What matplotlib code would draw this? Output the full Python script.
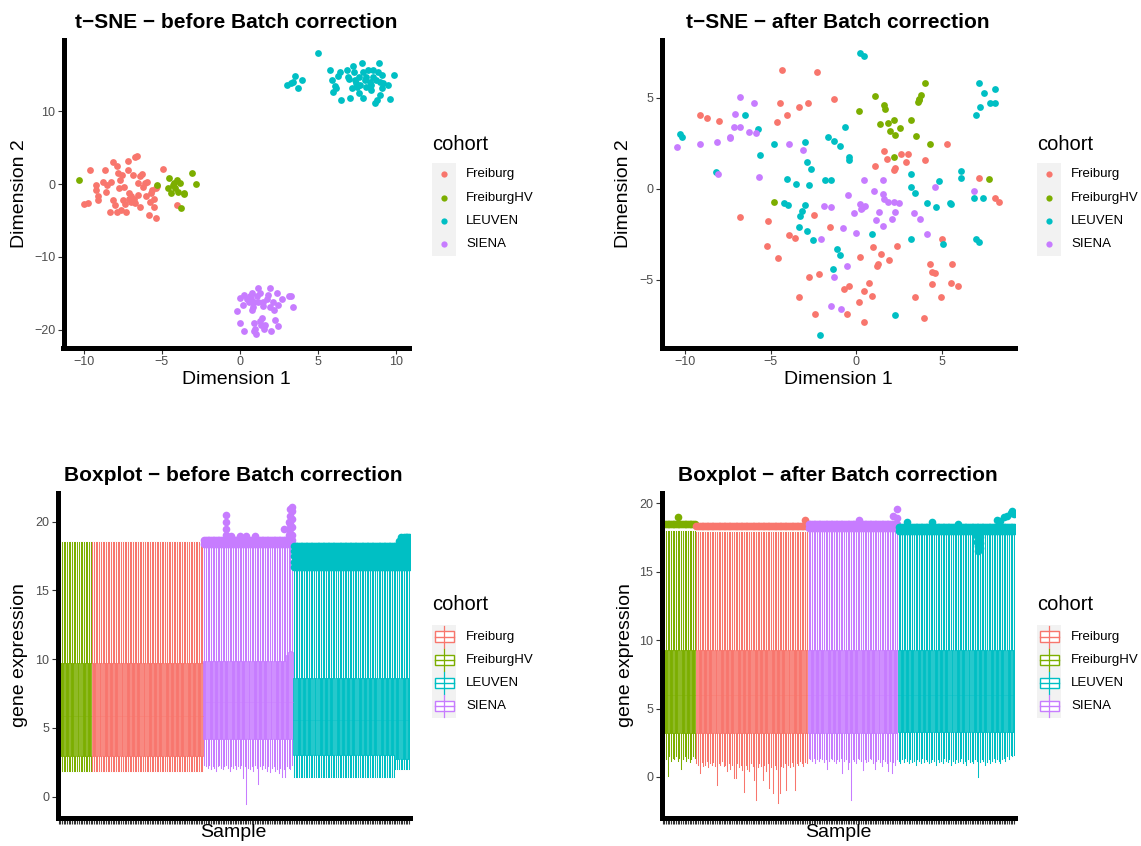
import matplotlib
matplotlib.use("Agg")
import matplotlib.pyplot as plt
from matplotlib.patches import Rectangle
from matplotlib.lines import Line2D
from matplotlib.transforms import Affine2D

plt.rcParams['font.family'] = ['Liberation Sans', 'DejaVu Sans']

W, H = 1141, 846

cohorts = ["Freiburg", "FreiburgHV", "LEUVEN", "SIENA"]
cohort_colors = {"Freiburg": "#F8766D", "FreiburgHV": "#7CAE00",
                 "LEUVEN": "#00BFC4", "SIENA": "#C77CFF"}

# ---------------- t-SNE coordinates ----------------
before_freiburg = [(-10.0, -2.8), (-9.7, -2.65), (-9.6, 1.9), (-9.2, -0.14), (-9.25, -0.8),
                   (-9.1, -1.7), (-9.1, -2.2), (-8.8, 0.3), (-8.67, 1.9), (-8.6, -1.05),
                   (-8.3, -3.9), (-8.25, 0.3), (-8.1, 3.06), (-8.1, -2.2), (-8.0, -2.9),
                   (-7.9, 2.4), (-7.87, -3.8), (-7.8, 1.46), (-7.76, -0.6), (-7.65, 0.55),
                   (-7.6, -3.6), (-7.55, 1.2), (-7.5, -2.2), (-7.4, -0.4), (-7.33, -2.7),
                   (-7.3, -3.8), (-7.2, 3.2), (-7.16, 1.9), (-7.1, -1.2), (-7.0, -1.7),
                   (-6.95, -2.4), (-6.87, 1.2), (-6.8, -2.1), (-6.74, 3.65), (-6.6, 3.8),
                   (-6.55, 0.1), (-6.5, -1.5), (-6.4, -3.1), (-6.4, 1.1), (-6.27, 1.37),
                   (-6.2, -0.4), (-6.1, 0.2), (-6.0, -1.7), (-5.95, 0.3), (-5.84, -4.2),
                   (-5.78, -2.4), (-5.7, -1.3), (-5.63, -0.8), (-5.52, -2.0), (-5.48, -3.2),
                   (-5.4, -4.7), (-5.4, -0.6), (-5.3, -0.3), (-4.95, 2.0), (-4.03, -2.9),
                   (-6.7, -2.65), (-7.1, -2.1), (-8.5, -0.1)]
before_freiburghv = [(-10.28, 0.55), (-5.3, -0.2), (-4.63, -0.6), (-4.52, 0.78), (-4.4, -1.3),
                     (-4.3, -0.1), (-4.14, -0.6), (-4.03, 0.55), (-3.97, -1.05), (-3.86, 0.2),
                     (-3.8, -3.3), (-3.6, -1.3), (-3.56, -1.4), (-3.07, 1.55), (-2.81, -0.05),
                     (-4.24, 0.2)]
before_leuven = [(4.97, 17.9), (3.0, 13.5), (3.3, 13.8), (3.54, 14.8), (3.43, 14.0),
                 (3.7, 13.2), (3.97, 14.2), (5.78, 15.6), (5.88, 14.2), (5.99, 12.6),
                 (6.16, 13.1), (6.3, 14.8), (6.4, 15.4), (6.46, 11.5), (6.84, 15.6),
                 (6.95, 14.7), (7.06, 11.8), (7.27, 16.1), (7.33, 15.4), (7.38, 14.2),
                 (7.48, 13.3), (7.6, 14.7), (7.65, 12.4), (7.8, 16.6), (7.9, 15.4),
                 (7.9, 11.8), (8.0, 14.2), (8.1, 13.3), (8.2, 15.6), (8.3, 14.0),
                 (8.4, 12.9), (8.5, 14.7), (8.55, 15.6), (8.66, 11.05), (8.76, 11.5),
                 (8.87, 15.4), (8.94, 16.6), (9.0, 14.0), (9.0, 12.2), (9.08, 14.9),
                 (9.19, 13.8), (9.5, 13.6), (9.6, 11.6), (9.87, 14.9), (7.17, 13.1),
                 (7.44, 13.8), (7.7, 13.6), (8.1, 14.7), (8.4, 13.6), (9.08, 13.1),
                 (6.1, 13.4), (7.0, 14.4), (8.7, 14.3)]
before_siena = [(-0.19, -17.35), (-0.02, -15.6), (0.02, -19.0), (0.19, -16.6), (0.23, -15.2),
                (0.28, -20.2), (0.45, -15.7), (0.55, -16.1), (0.62, -15.3), (0.7, -15.7),
                (0.77, -15.0), (0.83, -16.8), (0.87, -16.1), (0.92, -19.1), (0.98, -19.8),
                (1.04, -20.5), (1.09, -15.4), (1.13, -14.2), (1.19, -16.1), (1.26, -18.8),
                (1.3, -15.0), (1.34, -19.3), (1.41, -18.4), (1.47, -16.1), (1.56, -19.8),
                (1.62, -19.3), (1.73, -15.7), (1.83, -15.2), (1.9, -16.8), (1.94, -14.2),
                (1.98, -20.2), (2.1, -16.1), (2.2, -17.3), (2.26, -18.6), (2.4, -15.0),
                (2.47, -19.5), (2.47, -16.6), (2.69, -15.75), (3.16, -15.4), (3.26, -15.4),
                (3.43, -16.9), (0.77, -17.3), (1.5, -16.7), (0.87, -20.2)]

after_freiburg = [(-4.35, 6.5), (-2.3, 6.4), (-1.29, 4.9), (-4.44, 4.68), (-4.05, 4.04),
                  (-3.37, 4.46), (-2.83, 4.68), (-4.64, 3.67), (-9.12, 4.04), (-8.73, 3.9),
                  (-8.05, 3.73), (5.3, 2.45), (1.6, 2.08), (1.11, 1.26), (1.79, 1.63),
                  (2.18, 1.02), (2.28, 1.12), (2.6, 1.9), (3.0, 1.9), (2.92, 1.46),
                  (4.03, 1.57), (7.15, 0.6), (8.13, -0.48), (8.36, -0.73), (-6.82, -1.54),
                  (-5.17, -1.77), (-2.5, -1.44), (-5.22, -3.14), (-3.96, -2.54), (-3.6, -2.72),
                  (-1.52, -2.12), (-4.58, -3.82), (0.96, -3.18), (2.38, -3.13), (1.46, -3.58),
                  (0.19, -3.75), (1.93, -3.91), (1.27, -4.1), (1.21, -4.24), (5.01, -2.78),
                  (4.29, -4.15), (4.43, -4.55), (4.58, -4.59), (5.6, -4.1), (-2.75, -4.83),
                  (-2.2, -4.68), (-0.45, -5.34), (-0.74, -5.48), (0.76, -5.19), (0.47, -5.6),
                  (0.92, -5.87), (4.43, -5.21), (5.56, -5.14), (5.95, -5.32), (3.45, -5.92),
                  (4.97, -5.92), (-3.37, -5.92), (0.14, -6.2), (-2.44, -6.84), (-0.55, -6.87),
                  (0.43, -7.33), (3.94, -7.06)]
after_freiburghv = [(4.03, 5.78), (1.11, 5.1), (0.18, 4.26), (1.6, 4.59), (1.7, 4.35),
                    (3.59, 4.77), (3.68, 4.95), (3.78, 5.14), (3.65, 4.86), (1.36, 3.55),
                    (1.83, 3.62), (2.18, 3.77), (3.22, 3.77), (1.95, 3.16), (2.57, 3.36),
                    (2.28, 2.94), (3.49, 2.91), (4.33, 2.45), (2.18, 1.72), (-4.83, -0.71),
                    (7.74, 0.53)]
after_leuven = [(0.19, 7.42), (0.43, 7.29), (7.15, 5.78), (7.49, 5.28), (8.13, 5.5),
                (7.21, 4.46), (7.84, 4.68), (8.13, 4.68), (7.02, 4.04), (-6.49, 4.04),
                (-10.29, 3.03), (-10.19, 2.85), (-5.75, 3.27), (-0.68, 3.4), (-1.66, 2.85),
                (-1.33, 2.61), (-0.97, 2.34), (-3.02, 2.54), (-4.83, 2.45), (-5.61, 1.88),
                (-0.41, 1.76), (-0.41, 1.57), (-2.88, 1.48), (-2.63, 1.08), (-8.19, 0.9),
                (-4.05, 0.53), (-3.51, 0.26), (-2.75, 0.2), (-1.81, 0.48), (-1.48, 0.48),
                (3.22, 0.79), (3.22, 0.11), (3.45, -0.22), (4.85, 0.44), (6.12, 0.97),
                (6.12, 0.57), (4.13, -0.77), (4.66, -1.02), (5.5, -0.77), (5.54, -0.84),
                (6.86, -0.49), (7.41, -0.53), (-4.21, -0.8), (-4.02, -0.9), (-2.98, -0.9),
                (-3.16, -1.21), (-3.27, -1.48), (-3.35, -2.12), (-2.88, -2.32), (-2.53, -2.82),
                (0.94, -2.49), (3.22, -2.76), (5.05, -3.0), (7.0, -2.76), (7.15, -2.94),
                (-1.13, -3.31), (-0.97, -3.64), (-1.36, -4.41), (2.28, -6.93), (-2.14, -8.03)]
after_siena = [(-6.78, 5.05), (-6.0, 4.68), (-7.08, 4.1), (-7.13, 3.38), (-6.82, 3.38),
               (-6.3, 3.13), (-5.85, 3.07), (-7.37, 2.85), (-7.41, 2.76), (-10.49, 2.3),
               (-9.16, 2.45), (-8.15, 2.58), (-3.96, 2.43), (-3.12, 2.12), (-8.11, 0.8),
               (-5.71, 0.62), (0.43, 0.48), (1.56, 0.48), (1.05, -0.13), (1.56, -0.26),
               (1.6, -0.57), (1.83, -0.71), (2.18, -0.71), (2.48, -0.8), (4.62, 0.11),
               (6.86, -0.11), (-0.51, -0.35), (0.19, -0.84), (0.33, -1.04), (0.53, -0.95),
               (0.29, -1.13), (-0.16, -1.32), (1.31, -1.26), (2.28, -1.26), (3.35, -1.32),
               (3.74, -1.66), (2.09, -1.63), (1.15, -1.72), (-1.91, -0.93), (-1.48, -0.99),
               (1.56, -2.05), (-0.78, -2.14), (0.0, -2.45), (-2.07, -2.76), (4.13, -2.49),
               (-0.55, -4.22), (-1.33, -4.83), (-1.48, -6.44), (-0.88, -6.6)]

# ---------------- per-sample boxplot summaries ----------------
sample_order = ["FreiburgHV", "Freiburg", "SIENA", "LEUVEN"]

# after correction: lower whisker end of every sample
after_low_freiburghv = [1.0, 1.4, 1.3, 0.1, 1.5, 1.2, 1.4, 1.3, 1.5, 1.2,
                        1.4, 0.6, 1.3, 1.5, 1.2, 1.4, 1.1, 1.3, 1.5, 1.4]
after_low_freiburg = [1.0, 0.9, 0.3, 1.1, 0.8, 0.9, 1.2, 0.7, 1.0, 0.9,
                      1.1, 0.8, -0.6, 1.0, 0.9, 1.2, 0.8, 0.9, 0.4, 1.0,
                      0.6, 0.9, -0.1, -0.1, 1.0, 0.7, 0.9, 0.5, -1.1, 0.9,
                      0.6, 0.4, 1.0, 0.8, -0.2, -1.7, 0.7, 1.0, 0.8, -0.2,
                      0.9, 0.4, 1.0, -0.8, 0.7, -1.2, 0.9, 0.6, -1.9, -1.2,
                      0.8, 0.7, 1.0, -0.95, 0.9, 0.7, 1.1, 0.8, -0.95, 1.0,
                      0.9, 1.2, 1.0, 0.8, 1.1, 1.0]
after_low_siena = [1.4, 1.3, 1.2, 1.4, 1.0, 1.3, 1.2, 1.4, 1.3, 1.1,
                   1.3, 0.6, 1.2, 1.4, 1.3, 1.2, 1.0, 1.3, 1.2, 1.4,
                   0.3, 1.2, 1.3, 0.55, 1.1, -1.7, 1.3, 1.2, 1.0, 1.4,
                   1.3, 1.2, 0.5, 1.3, 1.1, 1.2, 1.4, 1.3, 1.0, 0.6,
                   1.2, 1.3, 1.1, 0.8, 1.3, 1.2, 1.0, 0.4, 1.2, 0.3,
                   1.1, 0.9, 1.3]
after_low_leuven = [1.2, 1.0, 1.3, 1.1, 1.4, 1.2, 1.0, 1.3, 1.1, 1.2,
                    0.9, 1.3, 1.2, 1.0, 1.4, 1.1, 1.3, 1.2, 1.0, 1.1,
                    1.3, 1.2, 0.9, 1.3, 1.1, 1.2, 1.0, 1.4, 1.2, 1.1,
                    1.3, 0.9, 1.2, 1.0, 1.3, 1.1, 1.2, 1.4, 1.0, 1.2,
                    0.85, 1.3, 1.1, 1.2, 1.0, 1.3, 1.2, 0.0, 1.1, 1.3,
                    1.2, 0.85, 1.1, 1.3, 1.0, 1.2, 1.4, 1.1, 1.3, 1.2,
                    1.0, 1.3, 1.4, 1.2, 1.5, 1.3, 1.6, 1.5, 1.6]
after_low = {"FreiburgHV": after_low_freiburghv, "Freiburg": after_low_freiburg,
             "SIENA": after_low_siena, "LEUVEN": after_low_leuven}
after_q1 = {"FreiburgHV": 3.2, "Freiburg": 3.2, "SIENA": 3.2, "LEUVEN": 3.25}
after_med = {"FreiburgHV": 6.0, "Freiburg": 6.0, "SIENA": 6.0, "LEUVEN": 6.0}
after_q3 = {"FreiburgHV": 9.25, "Freiburg": 9.25, "SIENA": 9.25, "LEUVEN": 9.25}
after_high = {"FreiburgHV": 18.0, "Freiburg": 17.9, "SIENA": 17.9, "LEUVEN": 17.8}
after_fliers = {"FreiburgHV": [18.5], "Freiburg": [18.35], "SIENA": [18.2, 18.5],
                "LEUVEN": [17.95, 18.3]}
after_extra_fliers = {("FreiburgHV", 9): [19.0], ("Freiburg", 64): [18.8],
                      ("SIENA", 30): [18.8], ("SIENA", 50): [19.1], ("SIENA", 52): [18.9, 19.6],
                      ("LEUVEN", 5): [18.6], ("LEUVEN", 20): [18.6], ("LEUVEN", 35): [18.5],
                      ("LEUVEN", 46): [17.2, 17.6], ("LEUVEN", 47): [16.5, 16.9, 17.3, 17.7],
                      ("LEUVEN", 48): [16.7, 17.1, 17.5], ("LEUVEN", 58): [18.8],
                      ("LEUVEN", 60): [18.7], ("LEUVEN", 62): [19.0], ("LEUVEN", 64): [19.1],
                      ("LEUVEN", 66): [19.3], ("LEUVEN", 67): [19.4], ("LEUVEN", 68): [19.2]}

# before correction
before_low_siena = [2.3, 2.2, 2.1, 2.3, 2.0, 2.2, 2.1, 1.9, 2.2, 2.3,
                    2.1, 2.0, 2.2, 2.3, 2.1, 1.9, 2.2, 2.1, 2.3, 2.0,
                    2.2, 2.1, 2.3, 1.35, 2.2, -0.5, 2.1, 2.0, 2.2, 1.9,
                    2.3, 2.1, 0.9, 2.2, 2.0, 2.3, 2.1, 1.9, 2.2, 1.8,
                    2.1, 2.2, 1.9, 2.0, 1.7, 2.1, 1.45, 2.0, 1.4, 2.2,
                    2.1, 2.0, 2.3]
before_low = {"FreiburgHV": 1.9, "Freiburg": 1.9, "SIENA": before_low_siena, "LEUVEN": 1.45}
before_q1 = {"FreiburgHV": 2.95, "Freiburg": 2.95, "SIENA": 4.2, "LEUVEN": 3.0}
before_med = {"FreiburgHV": 5.9, "Freiburg": 5.9, "SIENA": 6.9, "LEUVEN": 5.6}
before_q3 = {"FreiburgHV": 9.7, "Freiburg": 9.7, "SIENA": 9.9, "LEUVEN": 8.6}
before_high = {"FreiburgHV": 18.5, "Freiburg": 18.5, "SIENA": 18.1, "LEUVEN": 16.4}
before_fliers = {"FreiburgHV": [], "Freiburg": [], "SIENA": [18.35, 18.7],
                 "LEUVEN": [16.7, 17.1, 17.5, 17.85, 18.2]}
before_extra_fliers = {("SIENA", 13): [19.0, 19.5, 20.0, 20.5], ("SIENA", 16): [18.95],
                       ("SIENA", 21): [18.95], ("SIENA", 25): [18.95], ("SIENA", 30): [18.95],
                       ("SIENA", 47): [19.5], ("SIENA", 50): [19.0, 19.5, 20.0],
                       ("SIENA", 51): [19.2, 19.8, 20.4, 20.9],
                       ("SIENA", 52): [19.0, 19.6, 20.2, 20.8, 21.1],
                       ("LEUVEN", 62): [18.6], ("LEUVEN", 63): [18.9], ("LEUVEN", 65): [18.9],
                       ("LEUVEN", 66): [18.6, 18.9], ("LEUVEN", 67): [18.6, 18.9],
                       ("LEUVEN", 68): [18.6, 18.9]}
before_overrides = {("SIENA", 49): dict(q3=10.3), ("SIENA", 50): dict(q3=10.5),
                    ("SIENA", 51): dict(q3=10.6), ("SIENA", 52): dict(q3=10.5),
                    ("LEUVEN", 60): dict(whislo=2.05, q1=2.75), ("LEUVEN", 61): dict(whislo=2.05, q1=2.75),
                    ("LEUVEN", 62): dict(whislo=2.05, q1=2.75), ("LEUVEN", 63): dict(whislo=2.05, q1=2.75),
                    ("LEUVEN", 64): dict(whislo=2.05, q1=2.75), ("LEUVEN", 65): dict(whislo=2.05, q1=2.75),
                    ("LEUVEN", 66): dict(whislo=2.05, q1=2.75), ("LEUVEN", 67): dict(whislo=2.05, q1=2.75),
                    ("LEUVEN", 68): dict(whislo=2.05, q1=2.75)}

n_samples = {c: len(after_low[c]) for c in sample_order}
N = sum(n_samples.values())

# ---------------- helpers ----------------
fig = plt.figure(figsize=(W / 100, H / 100), dpi=100)
fig.patch.set_facecolor('white')
pix = Affine2D().scale(1 / W, -1 / H).translate(0, 1) + fig.transFigure


def make_axes(left, top, right, bottom):
    ax = fig.add_axes([left / W, 1 - bottom / H, (right - left) / W, (bottom - top) / H])
    for s in ['top', 'right']:
        ax.spines[s].set_visible(False)
    for s in ['left', 'bottom']:
        ax.spines[s].set_linewidth(3.6)
        ax.spines[s].set_capstyle('projecting')
    ax.tick_params(length=4.5, width=0.8, color='#333333', labelsize=9,
                   labelcolor='#4D4D4D', pad=1.5)
    ax.set_facecolor('none')
    return ax


def label_axes(ax, title, xlabel, ylabel, box, xlab_y, ylab_x):
    left, top, right, bottom = box
    ax.set_title(title, fontsize=15, fontweight='bold', pad=8.4)
    ax.set_xlabel(xlabel, fontsize=14, va='center')
    ax.set_ylabel(ylabel, fontsize=14, va='center')
    ax.xaxis.set_label_coords(0.5, -(xlab_y - bottom) / (bottom - top))
    ax.yaxis.set_label_coords(-(left - ylab_x) / (right - left), 0.5)


def scatter_legend(x0):
    fig.text(x0 / W, 1 - 145 / H, "cohort", fontsize=14.5, va='center', ha='left')
    fig.add_artist(Rectangle((x0, 163), 24, 93, transform=pix, facecolor='#F2F2F2',
                             edgecolor='none'))
    for k, c in enumerate(cohorts):
        yy = 174.5 + 23.2 * k
        fig.add_artist(Line2D([x0 + 11.5], [yy], transform=pix, marker='o', markersize=4.5,
                              color=cohort_colors[c], markeredgewidth=0, linestyle='none'))
        fig.text((x0 + 34) / W, 1 - yy / H, c, fontsize=9.5, va='center', ha='left')


def box_legend(x0):
    fig.text(x0 / W, 1 - 605 / H, "cohort", fontsize=14.5, va='center', ha='left')
    fig.add_artist(Rectangle((x0, 625), 24, 93, transform=pix, facecolor='#F2F2F2',
                             edgecolor='none'))
    for k, c in enumerate(cohorts):
        yy = 636.7 + 23.1 * k
        col = cohort_colors[c]
        fig.add_artist(Line2D([x0 + 12, x0 + 12], [yy - 11, yy + 11], transform=pix,
                              color=col, linewidth=0.9))
        fig.add_artist(Rectangle((x0 + 2.5, yy - 5.3), 19, 10.6, transform=pix,
                                 facecolor='white', edgecolor=col, linewidth=1.0))
        fig.add_artist(Line2D([x0 + 2.5, x0 + 21.5], [yy, yy], transform=pix,
                              color=col, linewidth=1.0))
        fig.text((x0 + 34) / W, 1 - yy / H, c, fontsize=9.5, va='center', ha='left')


def draw_tsne(ax, groups):
    for c in cohorts:
        pts = groups[c]
        ax.scatter([p[0] for p in pts], [p[1] for p in pts], s=24, color=cohort_colors[c],
                   linewidths=0, zorder=3)


def sample_value(v, i):
    return v[i] if isinstance(v, list) else v


def draw_boxes(ax, low, q1, med, q3, high, fliers, extra, overrides=None):
    overrides = overrides or {}
    start = 1
    for c in sample_order:
        n = n_samples[c]
        stats = []
        for i in range(n):
            st = dict(whislo=sample_value(low[c], i), q1=q1[c], med=med[c], q3=q3[c],
                      whishi=high[c], fliers=list(fliers[c]) + extra.get((c, i), []))
            st.update(overrides.get((c, i), {}))
            stats.append(st)
        col = cohort_colors[c]
        ax.bxp(stats, positions=list(range(start, start + n)), widths=0.75,
               patch_artist=True, showcaps=False, manage_ticks=False,
               boxprops=dict(facecolor=col, edgecolor=col, linewidth=0.5),
               whiskerprops=dict(color=col, linewidth=0.75),
               medianprops=dict(color=col, linewidth=0.5),
               flierprops=dict(marker='o', markerfacecolor=col, markeredgecolor='none',
                               markersize=5.5))
        start += n
    ax.set_xlim(0.4, N + 0.6)
    ax.set_xticks(range(1, N + 1))
    ax.set_xticklabels([])
    ax.set_yticks([0, 5, 10, 15, 20])


# ---------------- panels ----------------
box_tl = (63.5, 40, 409, 348)
ax1 = make_axes(*box_tl)
draw_tsne(ax1, {"Freiburg": before_freiburg, "FreiburgHV": before_freiburghv,
                "LEUVEN": before_leuven, "SIENA": before_siena})
ax1.set_xlim(-11.3, 10.83)
ax1.set_ylim(-22.47, 19.73)
ax1.set_xticks([-10, -5, 0, 5, 10])
ax1.set_yticks([-20, -10, 0, 10])
label_axes(ax1, "t\u2212SNE \u2212 before Batch correction", "Dimension 1", "Dimension 2",
           box_tl, 380, 19)
scatter_legend(432)

box_tr = (661.5, 40, 1015, 348)
ax2 = make_axes(*box_tr)
draw_tsne(ax2, {"Freiburg": after_freiburg, "FreiburgHV": after_freiburghv,
                "LEUVEN": after_leuven, "SIENA": after_siena})
ax2.set_xlim(-11.4, 9.28)
ax2.set_ylim(-8.73, 8.16)
ax2.set_xticks([-10, -5, 0, 5])
ax2.set_yticks([-5, 0, 5])
label_axes(ax2, "t\u2212SNE \u2212 after Batch correction", "Dimension 1", "Dimension 2",
           box_tr, 380, 624)
scatter_legend(1037)

box_bl = (57.5, 493, 410, 818)
ax3 = make_axes(*box_bl)
draw_boxes(ax3, before_low, before_q1, before_med, before_q3, before_high,
           before_fliers, before_extra_fliers, before_overrides)
ax3.set_ylim(-1.55, 22.09)
label_axes(ax3, "Boxplot \u2212 before Batch correction", "Sample", "gene expression",
           box_bl, 832, 20)
box_legend(432)

box_br = (661.5, 493, 1015, 818)
ax4 = make_axes(*box_br)
draw_boxes(ax4, after_low, after_q1, after_med, after_q3, after_high,
           after_fliers, after_extra_fliers)
ax4.set_ylim(-3.0, 20.75)
label_axes(ax4, "Boxplot \u2212 after Batch correction", "Sample", "gene expression",
           box_br, 832, 626)
box_legend(1037)

fig.savefig("out.png", dpi=100, facecolor='white')
